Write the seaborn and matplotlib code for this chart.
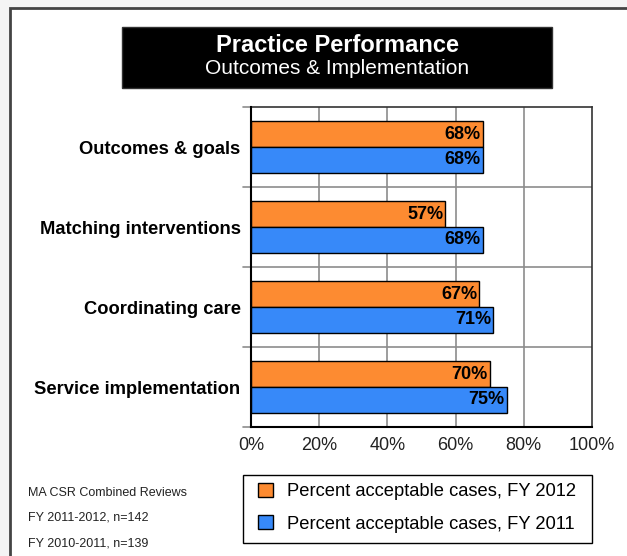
import numpy as np
import pandas as pd
import matplotlib
matplotlib.use("Agg")
import matplotlib.pyplot as plt
import seaborn as sns
from matplotlib.patches import Rectangle, Patch

# ---------------------
# Data
# ---------------------
categories = ["Outcomes & goals", "Matching interventions",
              "Coordinating care", "Service implementation"]
fy2012 = [68, 57, 67, 70]
fy2011 = [68, 68, 71, 75]
series_names = ["Percent acceptable cases, FY 2012",
                "Percent acceptable cases, FY 2011"]
tick_vals = [0, 20, 40, 60, 80, 100]
footnotes = ["MA CSR Combined Reviews", "FY 2011-2012, n=142",
             "FY 2010-2011, n=139"]

ORANGE = "#FD8B31"
BLUE = "#3789F9"

df = pd.DataFrame({
    "category": categories * 2,
    "series": [series_names[0]] * 4 + [series_names[1]] * 4,
    "value": fy2012 + fy2011,
})

sns.set_style("white")
plt.rcParams["font.family"] = ["Liberation Sans", "DejaVu Sans"]

W, H = 627, 556
fig = plt.figure(figsize=(W / 100, H / 100), dpi=100)
fig.patch.set_facecolor("#f4f4f4")

# outer white panel with dark border
fig.patches.append(Rectangle((10 / W, -0.05), 1.1, 1 - 8 / H + 0.05,
                             transform=fig.transFigure, facecolor="white",
                             edgecolor="#444444", linewidth=2, zorder=-5))

# title box
fig.patches.append(Rectangle((122 / W, 1 - 88 / H), 430 / W, 61 / H,
                             transform=fig.transFigure, facecolor="black",
                             edgecolor="#333333", linewidth=1, zorder=-4))
fig.text(337 / W, 1 - 46 / H, "Practice Performance", color="white",
         fontsize=17, fontweight="bold", ha="center", va="center")
fig.text(337 / W, 1 - 69 / H, "Outcomes & Implementation", color="white",
         fontsize=15, ha="center", va="center")

ax = fig.add_axes([251 / W, 1 - 427 / H, 341 / W, 320 / H])
ax.set_zorder(2)
ax.set_facecolor("white")
sns.barplot(data=df, y="category", x="value", hue="series",
            hue_order=series_names, order=categories,
            palette=[ORANGE, BLUE], width=0.64, orient="h",
            edgecolor="black", linewidth=1, saturation=1,
            legend=False, ax=ax, zorder=3)

for cont in ax.containers:
    ax.bar_label(cont, labels=[f"{v:.0f}%" for v in cont.datavalues],
                 padding=-1.5, label_type="edge", fontsize=13,
                 fontweight="bold", color="black")
for t in ax.texts:
    t.set_ha("right")

ax.set_xlim(0, 100)
ax.set_ylim(3.5, -0.5)
ax.set_xticks(tick_vals)
ax.set_xticklabels([f"{v}%" for v in tick_vals], fontsize=13,
                   color="#222222")
ax.set_yticks(np.arange(len(categories)))
ax.set_yticklabels(categories, fontsize=13.2, fontweight="bold",
                   color="black")
ax.tick_params(axis="y", length=0, pad=7.5)
ax.tick_params(axis="x", length=0, pad=7)
ax.set_xlabel("")
ax.set_ylabel("")

# grid lines: vertical at ticks, horizontal at category boundaries
for v in tick_vals[1:-1]:
    ax.axvline(v, color="#8c8c8c", linewidth=1.2, zorder=1)
for b in np.arange(-0.5, len(categories), 1.0)[1:-1]:
    ax.axhline(b, color="#8c8c8c", linewidth=1.2, zorder=1)
# small left ticks at boundaries
for b in np.arange(-0.5, len(categories) + 0.5, 1.0):
    ax.plot([-2.4, 0], [b, b], color="#8c8c8c", linewidth=1.2,
            clip_on=False, zorder=1)

for side in ["left", "bottom"]:
    ax.spines[side].set_color("black")
    ax.spines[side].set_linewidth(1.5)
for side in ["top", "right"]:
    ax.spines[side].set_color("#333333")
    ax.spines[side].set_linewidth(1.2)
ax.spines["left"].set_zorder(5)

# footnotes
for i, s in enumerate(footnotes):
    fig.text(28 / W, 1 - (493 + 25 * i) / H, s, fontsize=9,
             color="#222222", ha="left", va="center")

# legend: box drawn separately so the padding can match the original
fig.patches.append(Rectangle((243 / W, 1 - 543 / H), 349 / W, 68 / H,
                             transform=fig.transFigure, facecolor="white",
                             edgecolor="black", linewidth=1, zorder=-3))
handles = [Patch(facecolor=ORANGE, edgecolor="black", linewidth=1),
           Patch(facecolor=BLUE, edgecolor="black", linewidth=1)]
leg = fig.legend(handles, series_names, loc="upper left",
                 bbox_to_anchor=(258 / W, 1 - 483 / H), fontsize=13.2,
                 frameon=False, handlelength=0.8,
                 handleheight=0.8, handletextpad=0.8, labelspacing=0.82,
                 borderpad=0, borderaxespad=0)
for t in leg.get_texts():
    t.set_color("black")

fig.savefig("out.png", dpi=100, facecolor=fig.get_facecolor())
